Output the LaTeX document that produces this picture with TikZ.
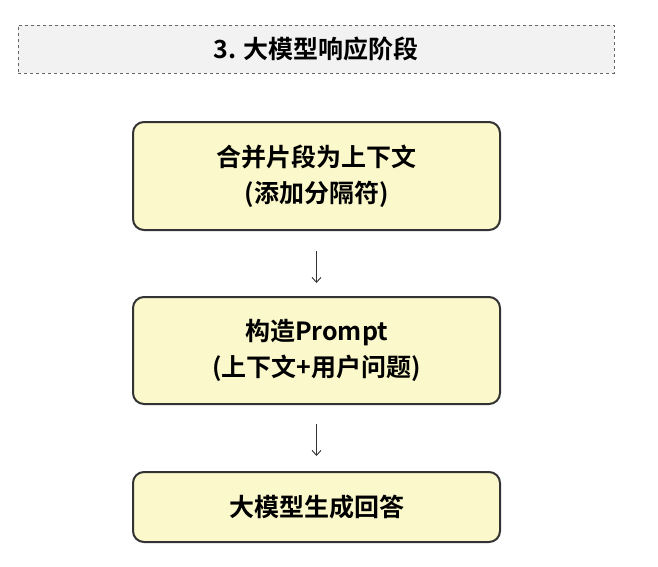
\documentclass[tikz,border=0pt]{standalone}
\usepackage{fontspec}
\setmainfont{Noto Sans CJK SC}[BoldFont={* Bold}]
\usetikzlibrary{arrows.meta}
\definecolor{boxfill}{HTML}{FBF8CB}
\definecolor{titlefill}{HTML}{F2F2F2}
\definecolor{edge}{HTML}{333333}
\begin{document}
\begin{tikzpicture}[x=1pt,y=-1pt,
  title/.style={draw=gray!80!black,dashed,fill=titlefill,line width=0.9pt,minimum width=596pt,minimum height=48pt,inner sep=0pt,font=\bfseries\fontsize{25}{28}\selectfont},
  box/.style={draw=edge,fill=boxfill,line width=2pt,rounded corners=11pt,minimum width=367pt,inner sep=0pt,align=center,font=\bfseries\fontsize{25}{36}\selectfont},
  conn/.style={draw=edge,line width=0.9pt,-{Straight Barb[length=5pt,width=9pt]}}]
\useasboundingbox (0,0) rectangle (658,566);
\node[title] (t) at (316,49) {3. 大模型响应阶段};
\node[box,minimum height=108pt] (a) at (316.5,176) {合并片段为上下文\\(添加分隔符)};
\node[box,minimum height=107pt] (b) at (316.5,350.5) {构造Prompt\\(上下文+用户问题)};
\node[box,minimum height=70pt] (c) at (316.5,507) {大模型生成回答};
\draw[conn,shorten <=20pt,shorten >=13pt] (a) -- (b);
\draw[conn,shorten <=19pt,shorten >=15pt] (b) -- (c);
\end{tikzpicture}
\end{document}
